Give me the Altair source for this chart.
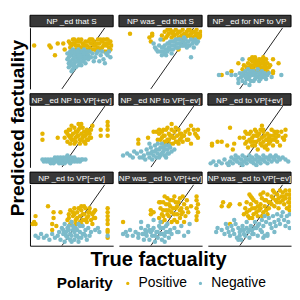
import altair as alt
import pandas as pd

# ---------------- data (values in tenths: x = true factuality*10, y = predicted factuality*10)
PANELS = ["NP _ed that S", "NP was _ed that S", "NP _ed for NP to VP",
          "NP _ed NP to VP[+ev]", "NP _ed NP to VP[\u2212ev]", "NP _ed to VP[+ev]",
          "NP _ed to VP[\u2212ev]", "NP was _ed to VP[+ev]", "NP was _ed to VP[\u2212ev]"]

P1_POS = [(-27,15),(-16,15),(-15,14),(-10,16),(-6,16),(-12,10),(-5,13),
 (-2,17),(-1,14),(0,12),(1,18),(2,16),(3,13),(4,17),(5,15),(6,12),(7,18),(8,16),(9,13),(10,17),(11,15),(12,12),
 (13,18),(14,16),(15,13),(16,17),(17,15),(18,12),(19,18),(20,16),(21,13),(22,17),(23,15),(24,12),(25,18),(26,16),
 (27,14),(28,17),(28,13),(-1,16),(3,15),(7,14),(11,13),(15,18),(19,14),(23,18),(27,16),(5,18),(9,15),(13,14),
 (17,13),(21,18),(25,15),(0,15),(26,12),(29,15),(2,18),(6,17),(10,15),(14,18),(18,16),(22,14),(26,18),(4,13),
 (12,17),(20,13),(24,16),(8,14),(16,15),(1,16)]
P1_NEG = [(-3,11),(-1,12),(1,13),(3,12),(5,13),(7,12),(9,13),(11,12),(13,12),(-2,9),(0,10),(2,11),(4,10),(6,11),
 (8,10),(10,11),(12,10),(-1,7),(1,8),(3,9),(5,8),(7,9),(9,8),(11,9),(0,5),(2,6),(4,7),(6,6),(8,7),(10,6),(1,3),
 (3,4),(5,5),(-2,4),(0,2),(15,11),(17,9),(19,12),(21,10),(23,8),(25,11),(27,12),(28,9),(24,6),(20,7),(16,7),
 (14,9),(18,11),(26,10),(22,12),(-2,6),(2,4),(7,5),(12,8),(-3,8),(0,12),(2,9),(4,12),(6,9),(8,12),(10,9),(1,6),
 (5,10),(9,11),(3,7),(7,7),(-1,10)]

P2_POS = [(-22,21),(-6,21),(-6,20),(-8,19),(-7,17),(13,13),
 (1,20),(3,22),(4,19),(6,21),(7,23),(8,19),(9,22),(10,20),(11,23),(12,21),(13,19),(14,22),(15,20),(16,23),
 (17,21),(18,19),(19,22),(20,20),(21,23),(22,21),(23,19),(24,22),(25,20),(26,23),(27,21),(28,19),(29,22),
 (5,23),(11,18),(17,18),(24,18),(29,20),(2,18),(20,23),(5,20),(9,21),(13,22),(15,18),(19,20),(23,22),(27,19),
 (8,22),(22,19),(26,21)]
P2_NEG = [(-5,16),(-2,12),(0,18),(-4,14),(-1,15),(0,12),(1,10),(1,14),(2,12),(3,15),(3,11),(4,13),(5,16),(5,12),
 (6,14),(7,17),(7,13),(8,15),(9,13),(9,17),(10,15),(11,18),(11,14),(12,16),(13,14),(14,18),(14,16),(15,15),
 (16,17),(17,15),(18,18),(18,16),(19,14),(20,17),(21,15),(22,18),(23,16),(24,14),(25,18),(26,16),(27,17),
 (22,9),(13,18),(17,19),(8,11),(4,10),(2,14),(6,16),(10,17),(12,14),(16,15),(20,15),(24,17),(-3,13)]

P3_POS = [(-1,6),(0,8),(1,5),(2,7),(3,3),(4,8),(5,6),(6,4),(7,8),(8,6),(9,3),(10,7),(11,5),(12,8),(13,6),(-2,4),
 (1,2),(5,2),(8,2),(11,3),(3,5),(7,5),(9,8),(6,7),(12,4),(-4,5),(-5,3),(14,4),(15,5),(4,9),(10,9),(2,9),(-8,6),
 (17,8),(21,6),(17,2),(17,1),(-20,0),(-13,2),(13,2),(0,4),(4,5),(8,4),(12,6),(2,3),(6,6),(10,4),(3,7),(9,6)]
P3_NEG = [(-10,0),(-8,-2),(-7,1),(-6,-1),(-5,-3),(-4,0),(-3,2),(-2,-2),(-1,1),(0,-1),(1,-3),(2,0),(3,2),(4,-2),
 (5,1),(6,-1),(7,-3),(8,0),(9,2),(10,-1),(11,1),(12,-2),(13,0),(14,1),(-3,-4),(3,-3),(-1,3),(6,3),(-22,0),
 (-16,1),(-5,8),(16,-1),(23,0),(-8,-4),(-13,0),(0,-5),(1,2),(-2,0),(4,0),(8,-2),(10,1),(-5,1),(-3,-1),(1,0),
 (5,-1),(9,0),(-1,-2),(3,1),(7,1),(11,-1)]

P4_POS = [(-21,10),(-21,7),(-10,8),(5,15),(7,15),(26,16),(26,14),(26,12),(26,9),(21,12),(21,9),(15,14),(0,14),
 (-2,12),(-5,8),(-4,11),(-3,6),(-2,9),(-1,12),(0,7),(1,10),(2,13),(3,6),(4,9),(5,12),(6,7),(7,10),(8,13),(9,6),
 (10,9),(11,12),(12,7),(13,10),(14,8),(2,5),(6,5),(10,5),(-1,5),(4,11),(8,8),(12,11),(0,9),(14,12),(3,8),(9,11),
 (11,7),(-3,10),(6,13),(1,7),(5,9),(7,7),(9,9),(3,11),(-1,8),(11,10),(13,8)]
P4_NEG = [(-21,-3),(-20,-4),(-19,-3),(-18,-4),(-17,-3),(-16,-4),(-15,-3),(-15,-5),(-14,-4),(-13,-3),(-13,-5),
 (-12,-4),(-12,-2),(-11,-3),(-10,-4),(-10,-2),(-9,-3),(-9,-5),(-8,-4),(-8,-2),(-7,-3),(-6,-4),(-6,-2),(-5,-3),
 (-5,-5),(-4,-4),(-4,-2),(-3,-3),(-2,-4),(-2,-2),(-1,-3),(-1,-5),(0,-4),(0,-2),(1,-3),(2,-4),(2,-2),(3,-3),
 (4,-4),(5,-3),(6,-4),(7,-3),(8,-3),(10,-3),(-7,-5),(-3,-1)]

P5_POS = [(8,15),(-1,12),(2,12),(-3,11),(-5,11),(26,9),(27,8),(20,7),(22,5),(-16,7),(-16,5),(-9,8),(27,12),(25,10),
 (-1,10),(0,7),(1,11),(2,5),(3,9),(4,12),(5,7),(6,10),(7,5),(8,12),(9,8),(10,11),(11,6),(12,9),(13,12),(14,7),
 (15,10),(16,6),(17,9),(18,11),(1,8),(5,13),(9,5),(13,5),(-2,7),(3,6),(7,9),(11,13),(15,8),(19,7),(21,10),
 (24,12),(22,14),(20,12),(2,9),(6,7),(10,8),(14,10),(4,6),(8,9),(12,6),(16,9)]
P5_NEG = [(-27,-1),(-24,0),(-20,-2),(-17,0),(-15,-2),(-14,1),(-12,-1),(-11,-3),(-10,2),(-9,0),(-8,-2),(-7,3),
 (-6,1),(-5,-1),(-4,4),(-3,2),(-2,0),(-1,-2),(0,3),(1,5),(2,1),(3,-1),(4,4),(5,2),(6,0),(7,3),(8,1),(10,2),
 (-13,-2),(-6,-3),(0,-1),(4,-2),(-8,5),(-2,5),(3,2),(6,4),(-19,1),(-22,-1),(-4,1),(-1,2),(2,3),(-7,0),(1,0),
 (-3,-2),(5,0)]

P6_POS = [(-14,13),(-27,5),(-27,4),(-23,6),(-20,6),(-16,4),(-7,8),(-12,2),(-11,5),(26,12),(26,9),(25,7),(10,12),
 (9,14),(-4,8),(-3,5),(-2,10),(-1,3),(0,7),(1,11),(2,4),(3,9),(4,12),(5,6),(6,2),(7,10),(8,5),(9,8),(10,11),
 (11,3),(12,7),(13,10),(14,5),(15,9),(16,12),(17,4),(18,7),(19,10),(20,6),(21,9),(22,4),(-2,6),(2,8),(6,9),
 (10,6),(14,8),(18,11),(4,4),(12,4),(16,7),(8,12),(20,11),(0,10),(-3,11),(24,8),(23,11),(1,6),(5,11),(13,2),(17,9),
 (3,6),(7,7),(11,9),(15,6),(19,8),(9,4),(5,9),(13,7)]
P6_NEG = [(-28,-5),(-26,-4),(-24,-6),(-22,-4),(-20,-5),(-18,-3),(-16,-5),(-14,-4),(-13,-2),(-12,-5),(-11,-3),
 (-10,-1),(-9,-4),(-8,-2),(-7,-5),(-6,-3),(-5,-1),(-4,-4),(-3,-2),(-2,-5),(-1,-3),(0,-1),(1,-4),(2,-2),(3,-5),
 (4,-3),(5,-1),(6,-4),(7,-2),(8,-5),(9,-3),(10,-1),(11,-4),(12,-2),(13,-5),(14,-3),(15,-1),(16,-4),(17,-2),
 (18,-3),(19,-1),(20,-4),(21,-2),(22,-3),(24,-2),(26,-3),(28,-4),(-15,-6),(5,-6),(-5,-6),(-10,-3),(-6,-5),
 (-2,-3),(2,-4),(6,-2),(10,-3),(14,-2),(18,-2),(0,-3),(8,-3)]

P7_POS = [(-17,13),(-13,10),(-13,7),(-8,10),(-26,8),(-27,5),(-28,4),(-26,4),(7,13),(9,13),(16,10),(17,7),(15,4),
 (26,12),(26,10),(26,8),(26,6),(26,4),(26,1),(26,0),(26,-3),(-14,4),(-14,1),(-11,3),
 (-3,6),(-2,9),(-1,11),(0,5),(1,8),(2,12),(3,6),(4,10),(5,4),(6,8),(7,11),(8,6),(9,9),(10,12),(11,5),(12,8),
 (13,10),(14,6),(15,9),(16,7),(-1,4),(3,4),(7,4),(11,7),(5,12),(9,6),(13,12),(1,10),(-2,7),(17,11),(4,7),(8,9),
 (12,10),(2,9),(6,5)]
P7_NEG = [(-7,2),(-6,-1),(-5,4),(-4,0),(-3,-3),(-2,3),(-1,-1),(0,5),(1,1),(2,-4),(3,2),(4,-2),(5,4),(6,0),(7,-3),
 (8,3),(9,-1),(10,1),(11,-4),(12,2),(13,-2),(14,0),(-5,-5),(0,-5),(5,-5),(-2,1),(2,0),(6,3),(10,-2),(-1,-4),
 (3,-2),(17,1),(20,0),(19,2),(-26,-2),(-24,-3),(-22,-1),(-20,-3),(-18,-2),(-16,-4),(-14,-1),(-12,-3),(-10,-2),
 (-8,-4),(-9,0),(26,-2),(-4,-2),(0,-2),(4,1),(8,-1),(-3,2),(1,3),(5,-3),(-6,1)]

P8_POS = [(-27,5),(-7,11),(-5,10),(-7,9),(0,15),(2,11),(16,18),(19,16),(26,18),(26,16),(27,14),(26,12),(27,10),
 (26,8),(26,6),(-1,7),(0,12),(1,9),(2,15),(3,6),(4,11),(5,17),(6,8),(7,13),(8,10),(9,16),(10,6),(11,12),(12,9),
 (13,15),(14,7),(15,12),(16,10),(17,14),(18,8),(19,12),(20,10),(3,18),(6,14),(10,18),(12,5),(14,17),(8,5),
 (-1,15),(5,9),(1,5),(17,5),(4,14),(11,15),(9,12),(15,9),(22,13),(2,8),(6,11),(10,9),(14,11),(7,16),(12,13)]
P8_NEG = [(-27,-1),(-25,0),(-24,-2),(-22,1),(-20,-2),(-18,0),(-16,-3),(-14,2),(-13,-1),(-12,-4),(-11,1),(-10,-2),
 (-9,3),(-8,-4),(-7,0),(-6,-2),(-5,2),(-4,-5),(-3,0),(-2,-3),(-1,3),(0,-1),(1,-4),(2,2),(3,-2),(4,0),(5,4),
 (6,-3),(7,1),(8,-1),(10,2),(12,0),(13,0),(20,0),(17,-2),(21,4),(15,3),(-14,5),(-5,6),(0,5),(-16,-1),(-8,1),(3,-5),
 (-10,0),(-6,1),(-2,0),(2,-1),(-4,-2),(0,2),(4,3),(-12,-1),(6,0)]

P9_POS = [(-20,13),(-19,15),(-14,14),(-15,13),(-7,14),(-14,4),(0,19),(1,18),(8,19),(10,20),(29,21),(29,19),
 (29,17),(29,15),(29,13),(29,11),(-4,9),(-3,12),(-2,15),(-1,8),(0,11),(1,14),(2,17),(3,9),(4,12),(5,15),(6,8),
 (7,11),(8,14),(9,17),(10,10),(11,13),(12,16),(13,19),(14,12),(15,15),(16,18),(17,21),(18,13),(19,16),(20,19),
 (21,12),(22,15),(23,18),(24,20),(25,14),(26,17),(27,19),(28,15),(12,11),(16,14),(20,15),(24,16),(6,13),(3,16),
 (9,8),(13,9),(18,20),(22,21),(26,21),(27,12),(-2,10),(0,7),(2,7),(2,12),(5,10),(8,12),(11,16),(14,15),(17,17),
 (21,17),(25,18)]
P9_NEG = [(-23,2),(-24,0),(-17,4),(-11,6),(-20,1),(-18,-1),(-16,2),(-15,0),(-14,-2),(-13,3),(-12,1),(-11,-1),
 (-10,4),(-9,-3),(-8,2),(-7,0),(-6,-4),(-5,3),(-4,1),(-3,-2),(-2,5),(-1,0),(0,-3),(1,3),(2,1),(3,-1),(4,5),
 (5,2),(6,-2),(7,4),(8,1),(9,6),(10,3),(11,-2),(12,5),(13,-1),(14,7),(15,4),(16,2),(17,8),(18,5),(19,3),(20,9),
 (21,6),(22,4),(23,8),(24,10),(25,6),(26,3),(27,8),(28,5),(29,9),(29,2),(-8,-4),(-7,-2),(10,-3),(13,-2),(11,8),(18,0),
 (-6,1),(-2,2),(2,-1),(6,3),(9,0),(-4,-1),(0,1),(4,2)]

POS = [P1_POS, P2_POS, P3_POS, P4_POS, P5_POS, P6_POS, P7_POS, P8_POS, P9_POS]
NEG = [P1_NEG, P2_NEG, P3_NEG, P4_NEG, P5_NEG, P6_NEG, P7_NEG, P8_NEG, P9_NEG]

X_DOMAIN = [-3.0, 3.0]
Y_DOMAIN = [-0.7, 2.4]
DIAG = [-0.7, 2.4]
LEVELS = ["Positive", "Negative"]

# ---------------- style
GOLD, BLUE = "#E5B401", "#7CBBCA"
STRIP = "#383838"
FONT = "Liberation Sans"
W, SH, PH = 87, 12, 64
GAP = 4


def axis_line():
    return alt.Axis(domain=True, ticks=False, labels=False, title=None, grid=False,
                    domainColor="black", domainWidth=1, minExtent=0, maxExtent=0, offset=0)


def make_panel(i):
    rows = [{"x": x / 10, "y": y / 10, "Polarity": "Positive"} for x, y in POS[i]]
    rows += [{"x": x / 10, "y": y / 10, "Polarity": "Negative"} for x, y in NEG[i]]
    df = pd.DataFrame(rows)
    col, row = i % 3, i // 3
    xa = axis_line() if row == 2 else None
    ya = axis_line() if col == 0 else None
    xs = alt.Scale(domain=X_DOMAIN, nice=False, zero=False)
    ys = alt.Scale(domain=Y_DOMAIN, nice=False, zero=False)

    diag = alt.Chart(pd.DataFrame({"x": DIAG, "y": DIAG})).mark_line(
        color="black", strokeWidth=0.9, clip=True).encode(
        x=alt.X("x:Q", scale=xs, axis=xa), y=alt.Y("y:Q", scale=ys, axis=ya))

    pts = alt.Chart(df).mark_circle(size=22, opacity=1, clip=True).encode(
        x=alt.X("x:Q", scale=xs, axis=xa),
        y=alt.Y("y:Q", scale=ys, axis=ya),
        color=alt.Color("Polarity:N",
                        scale=alt.Scale(domain=LEVELS, range=[GOLD, BLUE]),
                        legend=alt.Legend(orient="none", legendX=50, legendY=273,
                                          direction="horizontal", titleOrient="left")))
    plot = alt.layer(diag, pts).properties(width=W, height=PH)

    sdf = pd.DataFrame({"t": [PANELS[i]]})
    strip = alt.layer(
        alt.Chart(sdf).mark_rect(fill=STRIP, stroke="black", strokeWidth=1).encode(
            x=alt.value(0), x2=alt.value(W), y=alt.value(0), y2=alt.value(SH)),
        alt.Chart(sdf).mark_text(color="white", fontSize=8.5, font=FONT).encode(
            text="t:N", x=alt.value(W / 2), y=alt.value(SH / 2 + 0.5)),
    ).properties(width=W, height=SH)
    return alt.vconcat(strip, plot, spacing=0)


rows = [alt.hconcat(*[make_panel(r * 3 + c) for c in range(3)], spacing=GAP) for r in range(3)]
GRID_W = 3 * W + 2 * GAP
GRID_H = 3 * (SH + PH) + 2 * GAP

xtitle = alt.Chart(pd.DataFrame({"t": ["True factuality"]})).mark_text(
    fontSize=21, fontWeight="bold", font=FONT, color="black").encode(
    text="t:N", x=alt.value(GRID_W / 2), y=alt.value(11)).properties(width=GRID_W, height=22)

ytitle = alt.Chart(pd.DataFrame({"t": ["Predicted factuality"]})).mark_text(
    fontSize=20, fontWeight="bold", font=FONT, color="black", angle=270).encode(
    text="t:N", x=alt.value(10), y=alt.value(GRID_H / 2)).properties(width=19, height=GRID_H)

grid = alt.vconcat(*rows, xtitle, spacing=GAP)

chart = alt.hconcat(ytitle, grid, spacing=0).properties(padding=0).configure_view(
    stroke=None).configure_legend(
    titleFontSize=16, titleFont=FONT, titleFontWeight="bold", titleColor="black",
    labelFontSize=14.5, labelFont=FONT, labelColor="black",
    symbolSize=12, symbolType="circle", symbolStrokeWidth=0,
    columnPadding=6, labelOffset=4, titlePadding=8)

chart.save("out.html", embed_options={"renderer": "svg", "actions": False})
